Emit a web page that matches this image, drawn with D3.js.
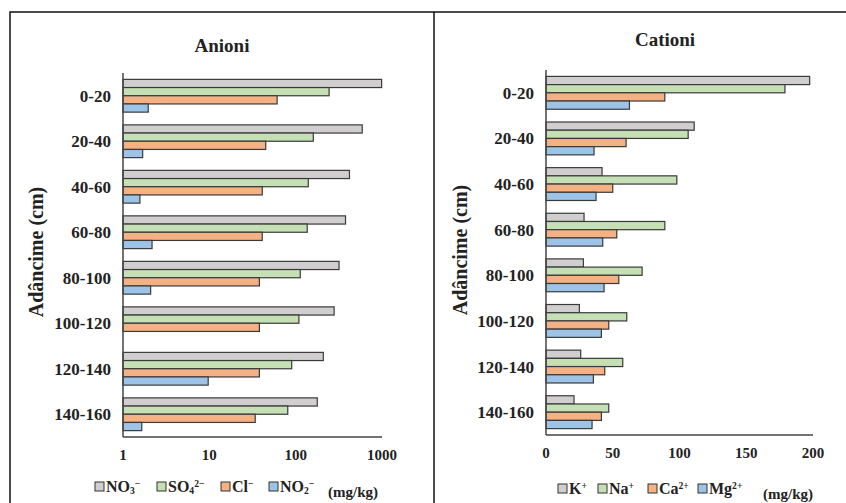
<!DOCTYPE html>
<html>
<head>
<meta charset="utf-8">
<script src="https://cdn.jsdelivr.net/npm/d3@7"></script>
<style>
  body { margin: 0; background: #fff; }
</style>
</head>
<body>
<div id="chart"></div>
<script>
// depth categories (top to bottom)
var depths = ["0-20", "20-40", "40-60", "60-80", "80-100", "100-120", "120-140", "140-160"];

// anions (mg/kg), log scale
var no3 = [990, 590, 420, 378, 318, 279, 209, 178];
var so4 = [244, 160, 140, 136, 113, 109, 90, 81];
var cl  = [61, 45, 41, 41, 38, 38, 38, 34];
var no2 = [1.96, 1.69, 1.57, 2.17, 2.09, null, 9.7, 1.65];
var anionTicks = [1, 10, 100, 1000];

// cations (mg/kg)
var kPlus  = [197.5, 111, 42, 28.5, 28, 25, 26, 21];
var naPlus = [179, 106.5, 98, 89, 72, 60.5, 57.5, 47];
var ca2    = [89, 60, 50, 53, 54.5, 47, 44, 41.5];
var mg2    = [62.5, 36, 37.5, 42.5, 43.5, 41.5, 35.5, 34.5];
var cationTicks = [0, 50, 100, 150, 200];

var colors = ["#d0cece", "#c5e0b4", "#f4b183", "#9dc3e6"];

var svg = d3.select("#chart").append("svg")
    .attr("width", 846)
    .attr("height", 503)
    .attr("font-family", "'Liberation Serif', 'Times New Roman', 'DejaVu Serif', serif")
    .attr("font-weight", "bold")
    .attr("fill", "#222");

// outer frame + divider
svg.append("rect")
    .attr("x", 10).attr("y", 12)
    .attr("width", 850).attr("height", 510)
    .attr("fill", "none").attr("stroke", "#111").attr("stroke-width", 1.5);
svg.append("line")
    .attr("x1", 434).attr("x2", 434).attr("y1", 12).attr("y2", 503)
    .attr("stroke", "#111").attr("stroke-width", 1.5);

// writes a label with sub/sup parts: parts = [[text, "n"|"sub"|"sup"], ...]
function richText(sel, parts, size) {
    var shift = 0;
    parts.forEach(function(p) {
        var t = sel.append("tspan").text(p[0]);
        var target = 0;
        if (p[1] == "sub") {
            t.attr("font-size", size * 0.6);
            target = 2;
        } else if (p[1] == "sup") {
            t.attr("font-size", size * 0.6);
            target = -5;
        } else {
            t.attr("font-size", size);
        }
        t.attr("dy", target - shift);
        shift = target;
    });
}

function drawPanel(opt) {
    var g = svg.append("g");

    var y = d3.scaleBand()
        .domain(depths)
        .range(opt.yRange)
        .paddingInner(0.28)
        .paddingOuter(0.14);

    var sub = d3.scaleBand()
        .domain(d3.range(4))
        .range([0, y.bandwidth()]);

    var x = opt.x;
    var x0 = x.range()[0];

    // title
    g.append("text")
        .attr("x", opt.titleX).attr("y", opt.titleY)
        .attr("text-anchor", "middle")
        .attr("font-size", 19)
        .text(opt.title);

    // y axis title
    g.append("text")
        .attr("transform", "translate(" + opt.yTitleX + "," + opt.yTitleY + ") rotate(-90)")
        .attr("text-anchor", "middle")
        .attr("font-size", 20)
        .text("Adâncime (cm)");

    // bars
    opt.series.forEach(function(vals, si) {
        g.selectAll(".bar" + si)
            .data(depths.map(function(d, i) { return {cat: d, v: vals[i]}; })
                        .filter(function(d) { return d.v != null; }))
            .enter()
            .append("rect")
            .attr("x", x0)
            .attr("y", function(d) { return y(d.cat) + sub(si); })
            .attr("width", function(d) { return x(d.v) - x0; })
            .attr("height", sub.bandwidth())
            .attr("fill", colors[si])
            .attr("stroke", "#3a3a3a")
            .attr("stroke-width", 1.2);
    });

    // category labels
    g.selectAll(".cat")
        .data(depths)
        .enter()
        .append("text")
        .attr("x", x0 - 12)
        .attr("y", function(d) { return y(d) + y.bandwidth() / 2; })
        .attr("dy", "0.35em")
        .attr("text-anchor", "end")
        .attr("font-size", 17)
        .text(function(d) { return d; });

    // axis lines
    var yr = y.range();
    g.append("line")
        .attr("x1", x0).attr("x2", x0).attr("y1", yr[0]).attr("y2", yr[1])
        .attr("stroke", "#444").attr("stroke-width", 1.5);
    g.append("line")
        .attr("x1", x0).attr("x2", x.range()[1]).attr("y1", yr[1]).attr("y2", yr[1])
        .attr("stroke", "#444").attr("stroke-width", 1.5);

    // x tick labels
    g.selectAll(".tick")
        .data(opt.ticks)
        .enter()
        .append("text")
        .attr("x", function(d) { return x(d); })
        .attr("y", opt.tickY)
        .attr("text-anchor", "middle")
        .attr("font-size", 15)
        .text(function(d) { return d; });

    // legend
    opt.legend.forEach(function(item, i) {
        g.append("rect")
            .attr("x", item.x).attr("y", opt.legendY - 10)
            .attr("width", 9).attr("height", 9)
            .attr("fill", colors[i])
            .attr("stroke", "#333").attr("stroke-width", 1);
        var t = g.append("text")
            .attr("x", item.x + 11).attr("y", opt.legendY);
        richText(t, item.parts, 16);
    });
    g.append("text")
        .attr("x", opt.unitX).attr("y", opt.legendY + 5)
        .attr("font-size", 15)
        .text("(mg/kg)");
}

drawPanel({
    title: "Anioni", titleX: 222, titleY: 52,
    yTitleX: 43, yTitleY: 252,
    yRange: [73, 437],
    x: d3.scaleLog().domain([1, 1000]).range([123, 382]),
    ticks: anionTicks, tickY: 460,
    series: [no3, so4, cl, no2],
    legendY: 492,
    legend: [
        {x: 95,  parts: [["NO", "n"], ["3", "sub"], ["−", "sup"]]},
        {x: 157, parts: [["SO", "n"], ["4", "sub"], ["2−", "sup"]]},
        {x: 221, parts: [["Cl", "n"], ["−", "sup"]]},
        {x: 269, parts: [["NO", "n"], ["2", "sub"], ["−", "sup"]]}
    ],
    unitX: 328
});

drawPanel({
    title: "Cationi", titleX: 665, titleY: 46,
    yTitleX: 467, yTitleY: 250,
    yRange: [70, 435],
    x: d3.scaleLinear().domain([0, 200]).range([546, 813]),
    ticks: cationTicks, tickY: 458,
    series: [kPlus, naPlus, ca2, mg2],
    legendY: 494,
    legend: [
        {x: 558, parts: [["K", "n"], ["+", "sup"]]},
        {x: 598, parts: [["Na", "n"], ["+", "sup"]]},
        {x: 648, parts: [["Ca", "n"], ["2+", "sup"]]},
        {x: 698, parts: [["Mg", "n"], ["2+", "sup"]]}
    ],
    unitX: 763
});
</script>
</body>
</html>
